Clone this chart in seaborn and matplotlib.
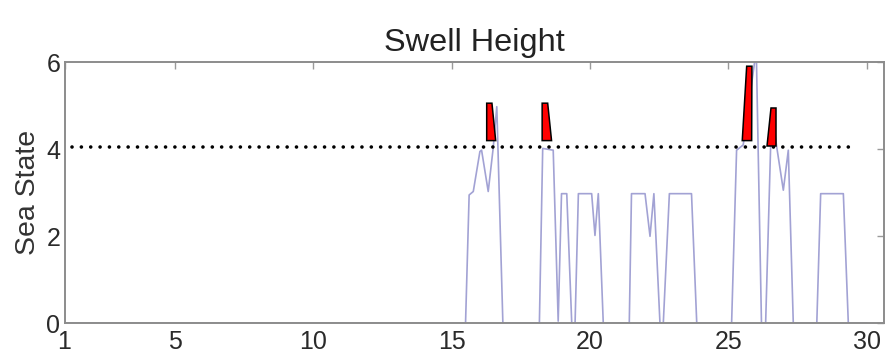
import matplotlib
matplotlib.use("Agg")
import matplotlib.pyplot as plt
import numpy as np
import pandas as pd
import seaborn as sns

# Swell sea-state time series (day of month vs. sea state)
day = [1.0, 15.50, 15.63, 15.78, 16.02, 16.08, 16.32, 16.50, 16.63, 16.85,
       18.17, 18.29, 18.67, 18.85, 18.97, 19.16, 19.34, 19.46, 19.58, 20.06,
       20.18, 20.30, 20.48, 21.42, 21.50, 21.99, 22.17, 22.31, 22.53, 22.65,
       22.87, 23.67, 23.86, 25.12, 25.30, 25.54, 25.95, 26.02, 26.20, 26.35,
       26.57, 26.75, 26.99, 27.17, 27.35, 28.20, 28.34, 29.16, 29.34, 30.0]
sea_state = [0, 0, 2.95, 3.03, 3.95, 3.98, 3.03, 4.03, 4.98, 0,
             0, 4.02, 3.98, 0.05, 2.98, 2.98, 0, 0, 2.98, 2.98,
             2.02, 2.98, 0, 0, 2.98, 2.98, 2.0, 2.98, 0, 0,
             2.98, 2.98, 0, 0, 3.98, 4.1, 6.0, 6.0, 0, 0,
             4.94, 4.06, 3.06, 3.98, 0, 0, 2.98, 2.98, 0, 0]

# Threshold and exceedance flags
threshold = 4.06
threshold_span = [1.26, 29.66]
flag_base_left = [16.265, 18.27, 25.505, 26.39]
flag_base_right = [16.59, 18.61, 25.845, 26.72]
flag_top_left = [16.265, 18.27, 25.665, 26.53]
flag_top_right = [16.455, 18.47, 25.855, 26.72]
flag_base = [4.20, 4.20, 4.20, 4.08]
flag_top = [5.06, 5.06, 5.91, 4.94]

x_ticks = [1, 5, 10, 15, 20, 25, 30]
y_ticks = [0, 2, 4, 6]

sns.set_theme(style="white")
plt.rcParams["font.family"] = ["Liberation Sans", "DejaVu Sans"]

fig = plt.figure(figsize=(8.85, 3.53), dpi=100)
ax = fig.add_axes([64.5 / 885, 1 - 323.3 / 353, (884 - 64.5) / 885, (323.3 - 62.3) / 353])

df = pd.DataFrame({"day": day, "sea_state": sea_state})
sns.lineplot(data=df, x="day", y="sea_state", ax=ax, sort=False, estimator=None,
             color="#a2a2d4", linewidth=1.2, zorder=2)

ax.plot(threshold_span, [threshold, threshold], color="black", linewidth=2.6,
        linestyle=(0, (0.01, 2.58)), dash_capstyle="round", zorder=3)

for bl, br, tl, tr, b, t in zip(flag_base_left, flag_base_right, flag_top_left,
                                flag_top_right, flag_base, flag_top):
    ax.fill([bl, br, tr, tl], [b, b, t, t], facecolor="#ff0000",
            edgecolor="black", linewidth=1.1, zorder=4)

ax.set_xlim(1, 30.63)
ax.set_ylim(0, 6)
ax.set_xticks(x_ticks)
ax.set_yticks(y_ticks)
ax.set_xlabel("")
ax.set_ylabel("Sea State", fontsize=20.5, color="#333333", labelpad=4)
ax.set_title("Swell Height", fontsize=23.4, color="#222222", pad=8)

for side in ["left", "right", "top", "bottom"]:
    ax.spines[side].set_visible(True)
    ax.spines[side].set_color("#8c8c8c")
    ax.spines[side].set_linewidth(1.4)

ax.tick_params(axis="both", direction="in", top=True, right=True, length=5,
               width=1, color="#9a9a9a", labelsize=18, labelcolor="#2a2a2a")
ax.tick_params(axis="x", pad=5)
ax.tick_params(axis="y", pad=3)

fig.savefig("out.png", dpi=100, facecolor="white")
